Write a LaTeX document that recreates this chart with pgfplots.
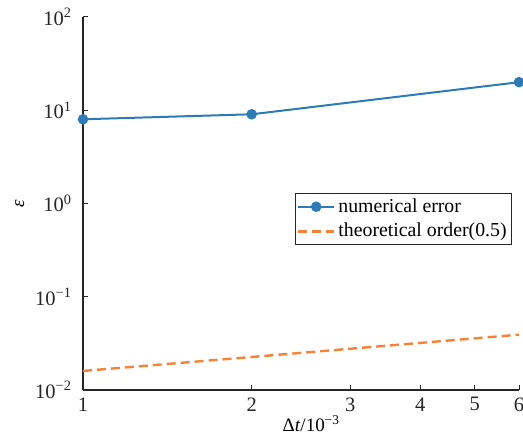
\documentclass[border=0pt]{standalone}
\usepackage{fontspec}
\setmainfont{Liberation Serif}
\usepackage{pgfplots}
\pgfplotsset{compat=1.18}
\definecolor{errblue}{HTML}{2E7AB4}
\definecolor{ordorange}{HTML}{F6823A}
\begin{document}
\fontsize{19}{23}\selectfont
\begin{tikzpicture}
\begin{axis}[
    scale only axis,
    width=436pt, height=373pt,
    xmode=log, ymode=log,
    xmin=1, xmax=6, ymin=1e-2, ymax=1e2,
    axis x line*=bottom, axis y line*=left,
    axis line style={line width=1.3pt, black!85},
    tick align=inside,
    major tick length=5pt,
    tick style={line width=1pt, black!85},
    xtick={1,2,3,4,5,6},
    xticklabels={1,2,3,4,5,6},
    ytick={1e-2,1e-1,1e0,1e1,1e2},
    yticklabels={10\textsuperscript{−2},10\textsuperscript{−1},10\textsuperscript{0},10\textsuperscript{1},10\textsuperscript{2}},
    xminorticks=false, yminorticks=false,
    tick label style={font=\fontsize{20.5}{24}\selectfont, black!85},
    yticklabel style={xshift=-5pt},
    xticklabel style={yshift=-1pt},
    xlabel={Δ\textit{t}/10\textsuperscript{−3}},
    ylabel={\textit{ε}},
    label style={font=\fontsize{19}{22}\selectfont},
    xlabel style={yshift=8pt, xshift=10pt},
    ylabel style={yshift=-2pt},
    legend style={at={(0.984,0.528)}, anchor=north east,
        draw=black!85, line width=0.8pt,
        font=\fontsize{19.8}{23}\selectfont,
        inner sep=2pt, row sep=2pt,
        nodes={inner ysep=3pt, inner xsep=3pt},
        legend cell align=left},
    legend image code/.code={
        \draw[mark repeat=2, mark phase=2]
        plot coordinates {(0pt,0pt) (18pt,0pt) (36pt,0pt)};},
    clip=false,
]
\addplot[color=errblue, line width=2pt, mark=*, mark size=5pt,
    mark options={fill=errblue, draw=errblue, line width=0.5pt}]
    coordinates {(1,8.0) (2,9.05) (6,20.0)};
\addlegendentry{numerical error}
\addplot[color=ordorange, line width=2.4pt, dash pattern=on 9pt off 5pt]
    coordinates {(1,0.0160) (2,0.0226) (3,0.0277) (4,0.0320) (5,0.0358) (6,0.0392)};
\addlegendentry{theoretical order(0.5)}
\end{axis}
\pgfresetboundingbox
\path[use as bounding box] (current axis.south west) ++(-83pt,-48pt)
    rectangle ([shift={(4pt,17pt)}]current axis.north east);
\end{tikzpicture}
\end{document}
